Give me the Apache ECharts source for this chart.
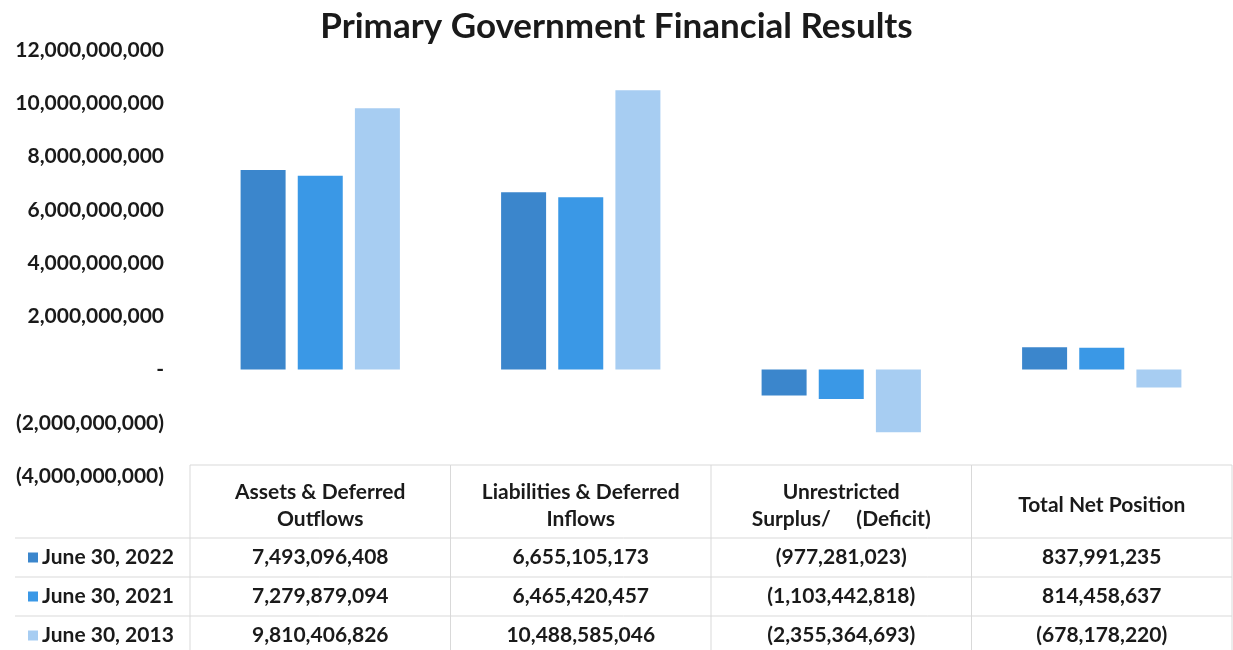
<!DOCTYPE html>
<html>
<head>
<meta charset="utf-8">
<script src="https://cdn.jsdelivr.net/npm/echarts@6/dist/echarts.min.js"></script>
<style>
  body { margin: 0; background: #fff; }
  #chart { width: 1233px; height: 650px; }
</style>
</head>
<body>
<div id="chart"></div>
<script>
// data
const categories = [
  'Assets & Deferred\nOutflows',
  'Liabilities & Deferred\nInflows',
  'Unrestricted\nSurplus/     (Deficit)',
  'Total Net Position'
];
const seriesNames = ['June 30, 2022', 'June 30, 2021', 'June 30, 2013'];
const values2022 = [7493096408, 6655105173, -977281023, 837991235];
const values2021 = [7279879094, 6465420457, -1103442818, 814458637];
const values2013 = [9810406826, 10488585046, -2355364693, -678178220];
const colors = ['#3b86cc', '#3a98e6', '#a7cdf2'];

const allValues = [values2022, values2021, values2013];
const FONT = 'Lato';

function fmt(v) {
  if (v === 0) return '-';
  const s = Math.abs(v).toLocaleString('en-US');
  return v < 0 ? '(' + s + ')' : s;
}

const chart = echarts.init(document.getElementById('chart'));

// table layout
const gridLeft = 190, gridRight = 1232;
const colW = (gridRight - gridLeft) / categories.length;
const tableTop = 465;
const headerBottom = 538;
const rowH = 39;
const lineColor = '#d9d9d9';
const tableFont = 'bold 21px ' + FONT;

const graphic = [];
// horizontal lines
graphic.push({ type: 'line', shape: { x1: gridLeft, y1: tableTop, x2: gridRight, y2: tableTop }, style: { stroke: lineColor, lineWidth: 1 } });
for (let i = 0; i < 3; i++) {
  const y = headerBottom + i * rowH;
  graphic.push({ type: 'line', shape: { x1: 15, y1: y, x2: gridRight, y2: y }, style: { stroke: lineColor, lineWidth: 1 } });
}
// vertical lines
for (let c = 0; c <= categories.length; c++) {
  const x = gridLeft + c * colW;
  graphic.push({ type: 'line', shape: { x1: x, y1: tableTop, x2: x, y2: 650 }, style: { stroke: lineColor, lineWidth: 1 } });
}
// header text
categories.forEach((cat, c) => {
  graphic.push({
    type: 'text', x: gridLeft + c * colW + colW / 2, y: (tableTop + headerBottom) / 2 + 4,
    style: { text: cat, fill: '#1a1a1a', font: tableFont, align: 'center', verticalAlign: 'middle', lineHeight: 27 }
  });
});
// rows
seriesNames.forEach((name, r) => {
  const yc = headerBottom + r * rowH + rowH / 2;
  graphic.push({ type: 'rect', shape: { x: 28, y: yc - 5, width: 10, height: 10 }, style: { fill: colors[r] } });
  graphic.push({ type: 'text', x: 42, y: yc, style: { text: name, fill: '#1a1a1a', font: tableFont, verticalAlign: 'middle' } });
  allValues[r].forEach((v, c) => {
    graphic.push({
      type: 'text', x: gridLeft + c * colW + colW / 2, y: yc,
      style: { text: fmt(v), fill: '#1a1a1a', font: tableFont, align: 'center', verticalAlign: 'middle' }
    });
  });
});

chart.setOption({
  animation: false,
  title: {
    text: 'Primary Government Financial Results',
    left: 'center',
    top: 4,
    textStyle: { fontFamily: FONT, fontWeight: 'bold', fontSize: 35, color: '#1a1a1a' }
  },
  grid: { left: gridLeft, right: 1233 - gridRight, top: 50, bottom: 650 - 476 },
  xAxis: {
    type: 'category',
    data: categories,
    axisLine: { show: false },
    axisTick: { show: false },
    axisLabel: { show: false }
  },
  yAxis: {
    type: 'value',
    min: -4000000000,
    max: 12000000000,
    interval: 2000000000,
    splitLine: { show: false },
    axisLine: { show: false },
    axisTick: { show: false },
    axisLabel: {
      formatter: fmt,
      margin: 26,
      fontFamily: FONT,
      fontWeight: 'bold',
      fontSize: 21,
      color: '#1a1a1a'
    }
  },
  series: seriesNames.map((name, i) => ({
    name: name,
    type: 'bar',
    data: allValues[i],
    barWidth: 45,
    barGap: '27%',
    itemStyle: { color: colors[i] }
  })),
  graphic: graphic
});
</script>
</body>
</html>
